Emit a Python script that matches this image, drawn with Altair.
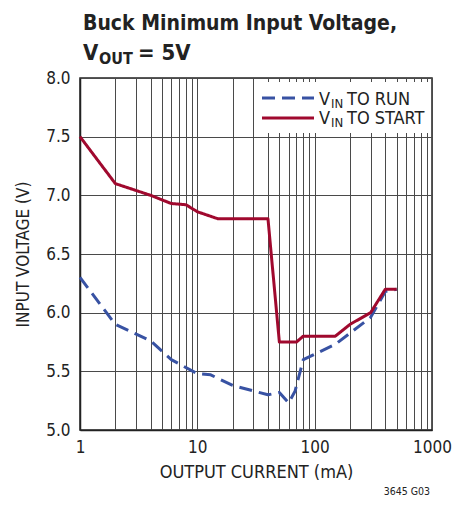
import altair as alt
import pandas as pd

# ---- data ----
start_x = [1, 2, 4, 6, 8, 10, 15, 40, 50, 70, 80, 150, 200, 300, 400, 500]
start_y = [7.5, 7.1, 7.0, 6.93, 6.92, 6.86, 6.8, 6.8, 5.75, 5.75, 5.8, 5.8, 5.9, 6.0, 6.2, 6.2]
run_x = [1, 2, 4, 6, 10, 13, 20, 40, 50, 60, 68, 80, 150, 300, 400, 500]
run_y = [6.3, 5.9, 5.76, 5.6, 5.48, 5.47, 5.38, 5.3, 5.32, 5.23, 5.33, 5.6, 5.73, 5.96, 6.18, 6.2]
series_names = ["VIN TO RUN", "VIN TO START"]
x_grid = [1, 2, 3, 4, 5, 6, 7, 8, 9,
          10, 20, 30, 40, 50, 60, 70, 80, 90,
          100, 200, 300, 400, 500, 600, 700, 800, 900, 1000]
x_labels = [1, 10, 100, 1000]
y_ticks = [5.0, 5.5, 6.0, 6.5, 7.0, 7.5, 8.0]

FONT = "Liberation Sans Narrow, DejaVu Sans Condensed, Liberation Sans, sans-serif"
RED = "#a0092e"
BLUE = "#3852a3"
GRID = "#4a4a4a"

df = pd.concat([
    pd.DataFrame({"current": run_x, "voltage": run_y, "series": series_names[0]}),
    pd.DataFrame({"current": start_x, "voltage": start_y, "series": series_names[1]}),
])

label_test = " || ".join(f"datum.value == {v}" for v in x_labels)

x_enc = alt.X(
    "current:Q",
    scale=alt.Scale(type="log", domain=[1, 1000], nice=False),
    axis=alt.Axis(
        values=x_grid, labelExpr=f"({label_test}) ? format(datum.value, 'd') : ''",
        labelOverlap=False, labelFlush=False, ticks=False, grid=True,
        labelBaseline="alphabetic", labelPadding=22,
        title="OUTPUT CURRENT (mA)", titleX=176, titleY=47, titleFontSize=18,
        titleBaseline="alphabetic", titleFontWeight="normal",
    ),
)
y_enc = alt.Y(
    "voltage:Q",
    scale=alt.Scale(domain=[5, 8], nice=False, zero=False),
    axis=alt.Axis(
        values=y_ticks, format=".1f", ticks=False, grid=True, labelPadding=10,
        title="INPUT VOLTAGE (V)", titleX=-48, titleY=176,
        titleFontWeight="normal",
    ),
)

lines = alt.Chart(df).mark_line(strokeWidth=3, strokeCap="butt", strokeJoin="round").encode(
    x=x_enc,
    y=y_enc,
    color=alt.Color("series:N", scale=alt.Scale(domain=series_names, range=[BLUE, RED]), legend=None),
    strokeDash=alt.StrokeDash("series:N", scale=alt.Scale(domain=series_names, range=[[13, 7], [1, 0]]), legend=None),
    order=alt.Order("current:Q"),
)

one = alt.Data(values=[{"k": 1}])

legend_bg = alt.Chart(one).mark_rect(fill="white").encode(
    x=alt.value(175), x2=alt.value(351), y=alt.value(4), y2=alt.value(55)
)

def rule(y, color, dash):
    return alt.Chart(one).mark_rule(color=color, strokeWidth=3, strokeDash=dash).encode(
        x=alt.value(182), x2=alt.value(234), y=alt.value(y)
    )

def txt(s, x, y, size, weight="normal", align="left"):
    return alt.Chart(one).mark_text(
        text=s, font=FONT, fontSize=size, fontWeight=weight, align=align,
        baseline="alphabetic", color="#222222",
    ).encode(x=alt.value(x), y=alt.value(y))

layers = [
    lines,
    legend_bg,
    rule(20, BLUE, [13, 7]),
    rule(40, RED, [1, 0]),
    txt("V", 239, 27, 18), txt("IN", 251, 30, 13), txt("TO RUN", 267, 27, 18),
    txt("V", 239, 46, 18), txt("IN", 251, 49, 13), txt("TO START", 267, 46, 18),
    txt("Buck Minimum Input Voltage,", 3, -48, 21, "bold"),
    txt("V", 3, -18, 22, "bold"), txt("OUT", 19, -14, 16, "bold"), txt("= 5V", 58, -18, 22, "bold"),
    txt("3645 G03", 350, 417, 10.5, align="right"),
]

chart = alt.layer(*layers).properties(
    width=352, height=352,
    autosize=alt.AutoSizeParams(type="none"),
    padding={"left": 72, "top": 70, "right": 26, "bottom": 68},
).configure_view(
    stroke="#222222", strokeWidth=1.5
).configure_axis(
    labelFont=FONT, titleFont=FONT, labelFontSize=17, titleFontSize=17,
    labelColor="#222222", titleColor="#222222",
    gridColor=GRID, gridWidth=1, gridOpacity=1,
    domainColor="#222222", domainWidth=1.5,
)

chart.save("out.html", embed_options={"renderer": "svg", "actions": False})
